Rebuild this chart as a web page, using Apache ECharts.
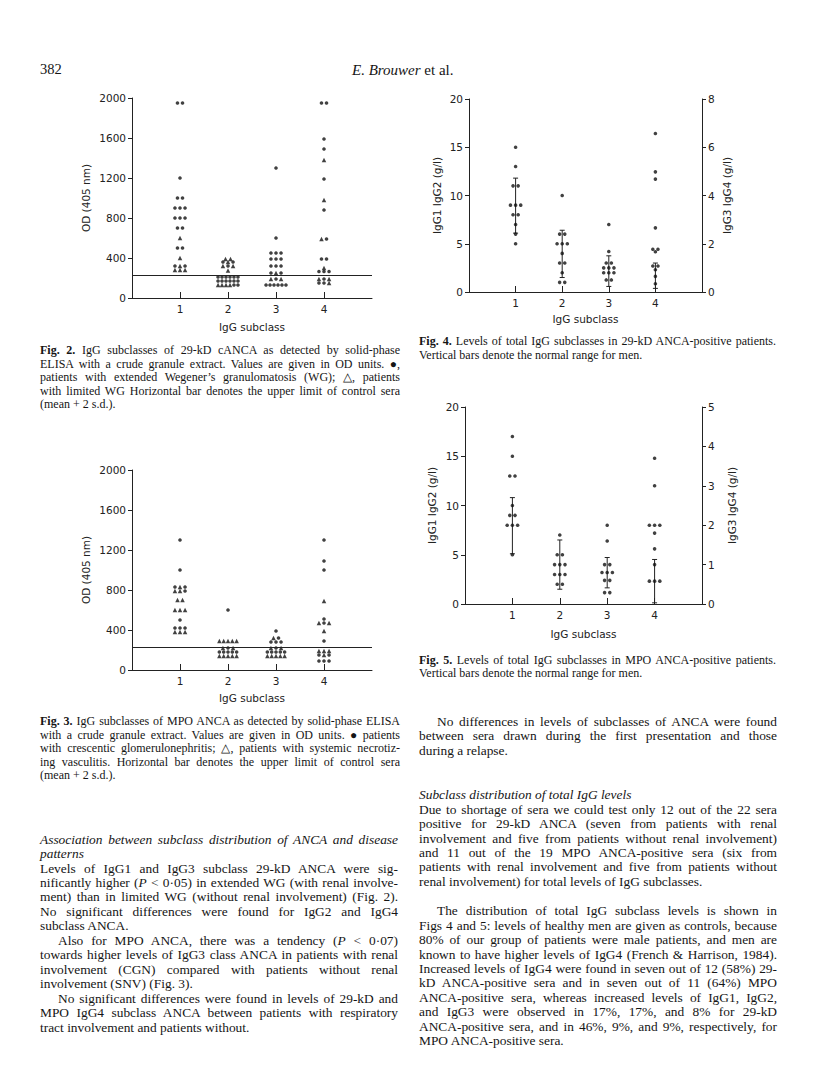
<!DOCTYPE html>
<html><head><meta charset="utf-8">
<script src="https://cdn.jsdelivr.net/npm/echarts@6/dist/echarts.min.js"></script>
<style>
html,body{margin:0;padding:0;background:#fff}
#page{position:relative;width:816px;height:1084px;overflow:hidden;background:#fff}
#chart{position:absolute;left:0;top:0;width:816px;height:1084px}
.ln{position:absolute;white-space:nowrap;font-family:'Liberation Serif','Times New Roman',serif;color:#151515}
</style></head>
<body><div id="page"><div id="chart"></div></div>
<script>
// ---------------- DATA ----------------
const subclassLabels = ['1','2','3','4'];
// Fig 2: 29-kD cANCA, OD (405 nm); rows: [value, markers] (o = extended WG, ^ = limited WG)
const fig2Sub1 = [[1950,'oo'],[1200,'o'],[1000,'oo'],[900,'ooo'],[800,'ooo'],[700,'oo'],[600,'^'],[500,'oo'],[400,'^'],[320,'o^o'],[280,'^^^']];
const fig2Sub2 = [[390,'^^'],[360,'o^o'],[320,'^o^'],[275,'^'],[210,'oooooo'],[170,'oooooo'],[130,'^^^^oo']];
const fig2Sub3 = [[1300,'o'],[600,'o'],[450,'ooo'],[390,'ooo'],[320,'ooo'],[250,'o^o'],[190,'^o^'],[130,'oooooo']];
const fig2Sub4 = [[1950,'oo'],[1590,'o'],[1490,'o'],[1380,'^'],[1190,'o'],[980,'^'],[880,'o'],[590,'^o'],[390,'oo'],[300,'^'],[265,'ooo'],[190,'^o^'],[150,'oo^']];
const fig2Limit = 230;
const odTicks = [0,400,800,1200,1600,2000];
// Fig 3: MPO ANCA (o = CGN, ^ = SNV)
const fig3Sub1 = [[1300,'o'],[1000,'o'],[830,'o^o'],[790,'^^o'],[700,'^^'],[600,'^^^'],[500,'o'],[420,'ooo'],[380,'^^^']];
const fig3Sub2 = [[600,'o'],[290,'^^^^^'],[220,'^o^'],[180,'ooooo'],[140,'^^^^^']];
const fig3Sub3 = [[390,'o'],[320,'^o'],[280,'ooo'],[220,'^o^'],[180,'ooooo'],[140,'^^^^^']];
const fig3Sub4 = [[1300,'o'],[1090,'o'],[1000,'o'],[690,'^'],[510,'o'],[470,'^o^'],[390,'^'],[290,'o'],[190,'^^^'],[150,'o^o'],[90,'ooo']];
const fig3Limit = 230;
// Fig 4: total IgG, 29-kD ANCA positive (g/l)
const fig4IgG1 = [[15,'o'],[13,'o'],[11,'oo'],[9,'ooo'],[8,'oo'],[7,'o'],[6,'o'],[5,'o']];
const fig4IgG2 = [[10,'o'],[6,'oo'],[5,'ooo'],[4,'o'],[3,'oo'],[2,'o'],[1,'oo']];
const fig4IgG3 = [[2.8,'o'],[1.68,'o'],[1.2,'oo'],[1.0,'ooo'],[0.8,'ooo'],[0.5,'oo']];
const fig4IgG4 = [[6.57,'o'],[4.98,'o'],[4.68,'o'],[2.66,'o'],[1.77,'oo'],[1.67,'o'],[1.08,'oo'],[0.92,'o'],[0.65,'o'],[0.34,'o']];
const fig4NormalLeft = [[1,6.1,11.8],[2,1.5,6.4]];
const fig4NormalRight = [[3,0.23,1.5],[4,0.15,1.2]];
const fig4LeftTicks = [0,5,10,15,20];
const fig4RightTicks = [0,2,4,6,8];
// Fig 5: total IgG, MPO ANCA positive (g/l)
const fig5IgG1 = [[17,'o'],[15,'o'],[13,'oo'],[10,'o'],[9,'oo'],[8,'ooo'],[5,'o']];
const fig5IgG2 = [[7,'o'],[5,'oo'],[4,'ooo'],[3,'ooo'],[2,'oo']];
const fig5IgG3 = [[2.0,'o'],[1.6,'o'],[1.0,'oo'],[0.8,'ooo'],[0.6,'oo'],[0.29,'oo']];
const fig5IgG4 = [[3.7,'o'],[3.0,'o'],[2.0,'ooo'],[1.8,'o'],[1.4,'o'],[1.0,'o'],[0.58,'ooo']];
const fig5NormalLeft = [[1,5.1,10.8],[2,1.5,6.5]];
const fig5NormalRight = [[3,0.41,1.18],[4,0.03,1.13]];
const fig5LeftTicks = [0,5,10,15,20];
const fig5RightTicks = [0,1,2,3,4,5];

// ---------------- CHART ----------------
const INK = '#222';
const FONT = 'DejaVu Sans';
function layoutRows(rows, cat, stepFew, stepMany){
  const pts = [];
  rows.forEach(([v, pat]) => {
    const n = pat.length, step = n > 3 ? stepMany : stepFew;
    [...pat].forEach((c, i) => {
      const tri = c === '^';
      pts.push({value:[cat + (i - (n-1)/2)*step, v], symbol: tri ? 'triangle' : 'circle', symbolSize: tri ? 4.5 : 3.6});
    });
  });
  return pts;
}
function catPoints(list, step1, step2){
  let all = [];
  list.forEach(([rows, cat]) => { all = all.concat(layoutRows(rows, cat, step1, step2)); });
  return all;
}
function xAxisCfg(grid, gap){
  return {gridIndex:grid, type:'value', min:0, max:5, interval:1,
    axisLine:{show:true, onZero:false, lineStyle:{color:INK, width:1}},
    axisTick:{show:true, inside:true, length:6, customValues:[1,2,3,4], lineStyle:{color:INK}},
    axisLabel:{customValues:[1,2,3,4], formatter:v => subclassLabels[v-1] || '', margin:5, color:INK, fontFamily:FONT, fontSize:10.5},
    splitLine:{show:false},
    name:'IgG subclass', nameLocation:'middle', nameGap:gap, nameTextStyle:{color:INK, fontFamily:FONT, fontSize:10.5}};
}
function yAxisCfg(grid, ticks, name, gap, pos){
  const iv = ticks[1]-ticks[0];
  return {gridIndex:grid, type:'value', position:pos || 'left', min:ticks[0], max:ticks[ticks.length-1], interval:iv,
    axisLine:{show:true, lineStyle:{color:INK, width:1}},
    axisTick:{show:true, inside:false, length:4, lineStyle:{color:INK}},
    axisLabel:{margin:6, formatter:v => String(v), color:INK, fontFamily:FONT, fontSize:10.5},
    splitLine:{show:false},
    name:name, nameLocation:'middle', nameGap:gap, nameRotate:90, nameTextStyle:{color:INK, fontFamily:FONT, fontSize:10.5}};
}
function scatter(xi, yi, data, limit){
  const s = {type:'scatter', xAxisIndex:xi, yAxisIndex:yi, data:data, itemStyle:{color:'#111'}, silent:true};
  if (limit != null) s.markLine = {silent:true, symbol:'none', label:{show:false}, lineStyle:{color:INK, width:1, type:'solid'}, data:[{yAxis:limit}]};
  return s;
}
function errBars(xi, yi, data){
  return {type:'custom', xAxisIndex:xi, yAxisIndex:yi, data:data, encode:{x:0, y:[1,2]}, silent:true,
    renderItem:(params, api) => {
      const x = api.value(0), lo = api.coord([x, api.value(1)]), hi = api.coord([x, api.value(2)]);
      const w = 2.5, st = {stroke:INK, lineWidth:1};
      return {type:'group', children:[
        {type:'line', shape:{x1:lo[0], y1:lo[1], x2:hi[0], y2:hi[1]}, style:st},
        {type:'line', shape:{x1:lo[0]-w, y1:lo[1], x2:lo[0]+w, y2:lo[1]}, style:st},
        {type:'line', shape:{x1:hi[0]-w, y1:hi[1], x2:hi[0]+w, y2:hi[1]}, style:st}
      ]};
    }};
}
const chart = echarts.init(document.getElementById('chart'), null, {renderer:'svg'});
chart.setOption({
  animation:false,
  grid:[
    {left:132, top:98, width:240, height:200},
    {left:132, top:470, width:240, height:200},
    {left:469, top:99, width:233, height:193},
    {left:465, top:407, width:237, height:197}
  ],
  xAxis:[xAxisCfg(0,23), xAxisCfg(1,22), xAxisCfg(2,21), xAxisCfg(3,24)],
  yAxis:[
    yAxisCfg(0, odTicks, 'OD (405 nm)', 41),
    yAxisCfg(1, odTicks, 'OD (405 nm)', 41),
    yAxisCfg(2, fig4LeftTicks, 'IgG1 IgG2 (g/l)', 27),
    yAxisCfg(2, fig4RightTicks, 'IgG3 IgG4 (g/l)', 19, 'right'),
    yAxisCfg(3, fig5LeftTicks, 'IgG1 IgG2 (g/l)', 28),
    yAxisCfg(3, fig5RightTicks, 'IgG3 IgG4 (g/l)', 24, 'right')
  ],
  series:[
    scatter(0, 0, catPoints([[fig2Sub1,1],[fig2Sub2,2],[fig2Sub3,3],[fig2Sub4,4]], 0.105, 0.083), fig2Limit),
    scatter(1, 1, catPoints([[fig3Sub1,1],[fig3Sub2,2],[fig3Sub3,3],[fig3Sub4,4]], 0.105, 0.09), fig3Limit),
    scatter(2, 2, catPoints([[fig4IgG1,1],[fig4IgG2,2]], 0.11, 0.09)),
    scatter(2, 3, catPoints([[fig4IgG3,3],[fig4IgG4,4]], 0.11, 0.09)),
    errBars(2, 2, fig4NormalLeft),
    errBars(2, 3, fig4NormalRight),
    scatter(3, 4, catPoints([[fig5IgG1,1],[fig5IgG2,2]], 0.11, 0.09)),
    scatter(3, 5, catPoints([[fig5IgG3,3],[fig5IgG4,4]], 0.11, 0.09)),
    errBars(3, 4, fig5NormalLeft),
    errBars(3, 5, fig5NormalRight)
  ]
});

// ---------------- TEXT ----------------
const page = document.getElementById('page');
function addLine(html, x, cy, w, size, just, extra){
  const d = document.createElement('div');
  d.className = 'ln';
  d.style.left = x + 'px';
  d.style.top = (cy - size*0.62) + 'px';
  d.style.fontSize = size + 'px';
  d.style.lineHeight = (size*1.2) + 'px';
  if (extra) d.style.cssText += extra;
  const s = document.createElement('span');
  s.innerHTML = html;
  d.appendChild(s);
  page.appendChild(d);
  if (just){
    const nat = s.getBoundingClientRect().width;
    const n = (s.textContent.match(/ /g) || []).length;
    if (n) s.style.wordSpacing = ((w - nat)/n) + 'px';
  }
}
function block(lines, x, y0, dy, w, size){
  lines.forEach((l, i) => {
    const ind = l.ind || 0;
    addLine(l.t, x + ind, y0 + i*dy, w - ind, size, l.j, l.s);
  });
}
addLine('382', 40, 70, 0, 14.5, false);
addLine('<i>E. Brouwer</i> et al.', 352, 70, 0, 15, false);

block([
  {t:'<b>Fig. 2.</b> IgG subclasses of 29-kD cANCA as detected by solid-phase', j:true},
  {t:'ELISA with a crude granule extract. Values are given in OD units. ●,', j:true},
  {t:'patients with extended Wegener’s granulomatosis (WG); △, patients', j:true},
  {t:'with limited WG Horizontal bar denotes the upper limit of control sera', j:true},
  {t:'(mean + 2 s.d.).', j:false}
], 40, 350.5, 13.6, 360, 12);

block([
  {t:'<b>Fig. 3.</b> IgG subclasses of MPO ANCA as detected by solid-phase ELISA', j:true},
  {t:'with a crude granule extract. Values are given in OD units. ● patients', j:true},
  {t:'with crescentic glomerulonephritis; △, patients with systemic necrotiz-', j:true},
  {t:'ing vasculitis. Horizontal bar denotes the upper limit of control sera', j:true},
  {t:'(mean + 2 s.d.).', j:false}
], 40, 721.5, 13.6, 360, 12);

block([
  {t:'<b>Fig. 4.</b> Levels of total IgG subclasses in 29-kD ANCA-positive patients.', j:true},
  {t:'Vertical bars denote the normal range for men.', j:false}
], 419, 341.5, 13.6, 357, 12);

block([
  {t:'<b>Fig. 5.</b> Levels of total IgG subclasses in MPO ANCA-positive patients.', j:true},
  {t:'Vertical bars denote the normal range for men.', j:false}
], 419, 660, 13.6, 357, 12);

block([
  {t:'<i>Association between subclass distribution of ANCA and disease</i>', j:true},
  {t:'<i>patterns</i>', j:false},
  {t:'Levels of IgG1 and IgG3 subclass 29-kD ANCA were sig-', j:true},
  {t:'nificantly higher (<i>P</i> &lt; 0·05) in extended WG (with renal involve-', j:true},
  {t:'ment) than in limited WG (without renal involvement) (Fig. 2).', j:true},
  {t:'No significant differences were found for IgG2 and IgG4', j:true},
  {t:'subclass ANCA.', j:false},
  {t:'Also for MPO ANCA, there was a tendency (<i>P</i> &lt; 0·07)', j:true, ind:18},
  {t:'towards higher levels of IgG3 class ANCA in patients with renal', j:true},
  {t:'involvement (CGN) compared with patients without renal', j:true},
  {t:'involvement (SNV) (Fig. 3).', j:false},
  {t:'No significant differences were found in levels of 29-kD and', j:true, ind:18},
  {t:'MPO IgG4 subclass ANCA between patients with respiratory', j:true},
  {t:'tract involvement and patients without.', j:false}
], 40, 840, 14.45, 358, 13.4);

block([
  {t:'No differences in levels of subclasses of ANCA were found', j:true, ind:18},
  {t:'between sera drawn during the first presentation and those', j:true},
  {t:'during a relapse.', j:false}
], 419, 722, 14.45, 358, 13.4);

block([
  {t:'<i>Subclass distribution of total IgG levels</i>', j:false},
  {t:'Due to shortage of sera we could test only 12 out of the 22 sera', j:true},
  {t:'positive for 29-kD ANCA (seven from patients with renal', j:true},
  {t:'involvement and five from patients without renal involvement)', j:true},
  {t:'and 11 out of the 19 MPO ANCA-positive sera (six from', j:true},
  {t:'patients with renal involvement and five from patients without', j:true},
  {t:'renal involvement) for total levels of IgG subclasses.', j:false}
], 419, 795.5, 14.45, 358, 13.4);

block([
  {t:'The distribution of total IgG subclass levels is shown in', j:true, ind:18},
  {t:'Figs 4 and 5: levels of healthy men are given as controls, because', j:true},
  {t:'80% of our group of patients were male patients, and men are', j:true},
  {t:'known to have higher levels of IgG4 (French &amp; Harrison, 1984).', j:true},
  {t:'Increased levels of IgG4 were found in seven out of 12 (58%) 29-', j:true},
  {t:'kD ANCA-positive sera and in seven out of 11 (64%) MPO', j:true},
  {t:'ANCA-positive sera, whereas increased levels of IgG1, IgG2,', j:true},
  {t:'and IgG3 were observed in 17%, 17%, and 8% for 29-kD', j:true},
  {t:'ANCA-positive sera, and in 46%, 9%, and 9%, respectively, for', j:true},
  {t:'MPO ANCA-positive sera.', j:false}
], 419, 911.5, 14.45, 358, 13.4);
</script>
</body></html>
